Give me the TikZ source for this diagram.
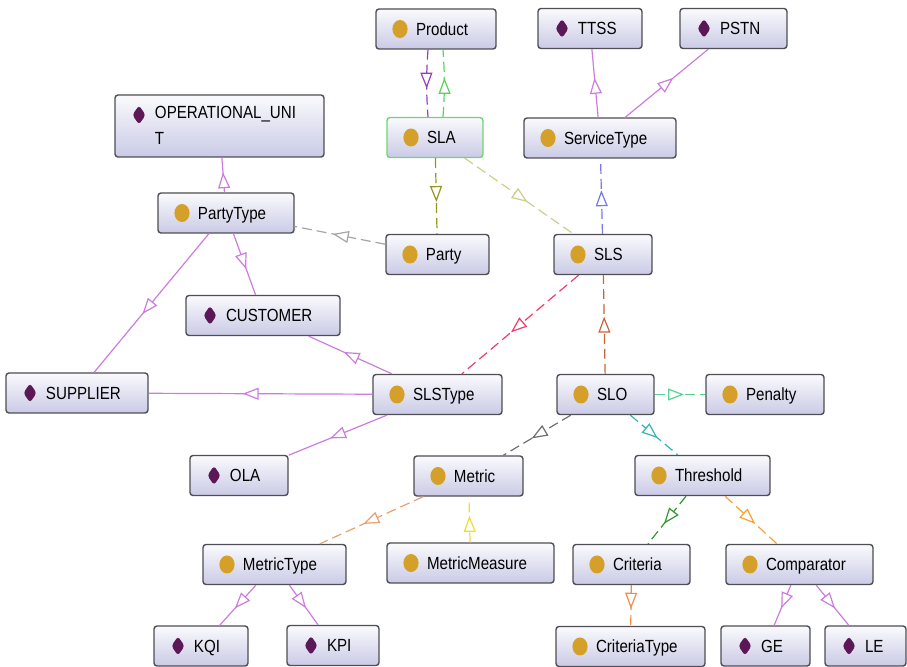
\documentclass[tikz,border=0pt]{standalone}
\usepackage{fontspec}
\setmainfont{Liberation Sans}[FakeStretch=0.86]
\usetikzlibrary{arrows.meta,decorations.markings}

\definecolor{boxtop}{RGB}{250,250,253}
\definecolor{boxbot}{RGB}{202,202,230}
\definecolor{boxline}{RGB}{78,78,84}
\definecolor{slagreen}{RGB}{110,215,110}
\definecolor{clsgold}{RGB}{212,160,42}
\definecolor{indpurple}{RGB}{92,24,86}
\definecolor{subline}{RGB}{204,124,222}
\definecolor{cPurple}{RGB}{150,60,200}
\definecolor{cGreen}{RGB}{90,210,90}
\definecolor{cOlive}{RGB}{150,150,30}
\definecolor{cPale}{RGB}{205,205,140}
\definecolor{cBlue}{RGB}{120,120,230}
\definecolor{cGray}{RGB}{165,165,165}
\definecolor{cRed}{RGB}{240,60,110}
\definecolor{cBrown}{RGB}{200,100,60}
\definecolor{cMint}{RGB}{90,210,150}
\definecolor{cDark}{RGB}{110,110,110}
\definecolor{cTeal}{RGB}{50,180,180}
\definecolor{cTan}{RGB}{230,160,110}
\definecolor{cYellow}{RGB}{240,220,50}
\definecolor{cGreenD}{RGB}{50,150,50}
\definecolor{cOrange}{RGB}{250,160,50}
\definecolor{cOrangeL}{RGB}{240,140,70}

\tikzset{
	onto/.style={draw=boxline, line width=0.7pt, rounded corners=1.5pt,
		top color=boxtop, bottom color=boxbot,
		inner xsep=0pt, inner ysep=0pt, minimum height=20pt,
		text height=6.2pt, text depth=0pt, align=left, text width=#1,
		font=\fontsize{8.8}{13.2}\selectfont,
		execute at begin node={\hspace*{20pt}}},
	cls/.style={onto=#1, path picture={
		\fill[clsgold] ([shift={(12pt,-10pt)}]path picture bounding box.north west)
			ellipse [x radius=3.8pt, y radius=4.5pt];}},
	ind/.style={onto=#1, path picture={
		\fill[indpurple] ([shift={(12pt,-10pt)}]path picture bounding box.north west)
			+(0pt,4.8pt) -- +(3.3pt,0pt) -- +(0pt,-4.8pt) -- +(-3.3pt,0pt) -- cycle;}},
	rel/.style={color=#1, line width=0.6pt, postaction={decorate},
		decoration={markings, mark=at position 0.58 with
			{\arrow{Triangle[fill=white,length=8pt,width=6pt]}}}},
	isa/.style={rel=subline},
	prop/.style={rel=#1, dash pattern=on 5pt off 2.5pt},
}

\begin{document}
\begin{tikzpicture}[x=0.5pt,y=-0.5pt]
	\useasboundingbox (0,0) rectangle (907,667);

	\node[cls=60pt] (P) at(436,29) {Product};
	\node[ind=52pt] (TT) at(590,28.5) {TTSS};
	\node[ind=53.5pt] (PS) at(733.5,28.5) {PSTN};
	\node[ind=104.5pt,minimum height=31pt,text depth=13.6pt] (OU) at(219.5,126) {OPERATIONAL\_UNI\\\hspace*{20pt}T};
	\node[cls=48pt,draw=slagreen] (SLA) at(435,137.5) {SLA};
	\node[cls=76pt] (ST) at(600,138) {ServiceType};
	\node[cls=68pt] (PT) at(226,213) {PartyType};
	\node[cls=51.5pt] (Pa) at(437.5,254.5) {Party};
	\node[cls=49pt] (SLS) at(603,254.5) {SLS};
	\node[ind=77pt] (CU) at(263,315.5) {CUSTOMER};
	\node[ind=71pt] (SU) at(77,393) {SUPPLIER};
	\node[cls=64.5pt] (SLT) at(437.5,394.5) {SLSType};
	\node[cls=48.5pt] (SLO) at(605.5,394.5) {SLO};
	\node[cls=59pt] (Pe) at(765,394.5) {Penalty};
	\node[ind=49pt] (OLA) at(239,475.5) {OLA};
	\node[cls=54.5pt] (Me) at(468.5,476) {Metric};
	\node[cls=67.5pt] (Th) at(702.5,475.5) {Threshold};
	\node[cls=71.5pt] (MT) at(274.5,564.5) {MetricType};
	\node[cls=83.5pt] (MM) at(470.5,563) {MetricMeasure};
	\node[cls=58.5pt] (Cr) at(631.5,564.5) {Criteria};
	\node[cls=73.5pt] (Co) at(799.5,564.5) {Comparator};
	\node[ind=47pt] (KQI) at(201,646) {KQI};
	\node[ind=46pt] (KPI) at(333,645.5) {KPI};
	\node[cls=74.5pt] (CT) at(630.5,646.5) {CriteriaType};
	\node[ind=44.5pt] (GE) at(765.5,646) {GE};
	\node[ind=40.5pt] (LE) at(865.5,646) {LE};

	\draw[prop=cPurple] ([xshift=-4pt]P.south) to[bend right=4] ([xshift=-3.5pt]SLA.north);
	\draw[prop=cGreen] ([xshift=4pt]SLA.north) to[bend right=4] ([xshift=3.5pt]P.south);
	\draw[isa] (ST)to(TT);
	\draw[isa] (ST)to(PS);
	\draw[isa] (PT)to(OU);
	\draw[prop=cOlive] (SLA)to(Pa);
	\draw[prop=cPale] (SLA)to(SLS);
	\draw[prop=cBlue] (SLS)to(ST);
	\draw[prop=cGray] (Pa)to(PT);
	\draw[isa] (PT)to(SU);
	\draw[isa] (PT)to(CU);
	\draw[isa] (SLT)to(CU);
	\draw[isa] (SLT)to(SU);
	\draw[isa] (SLT)to(OLA);
	\draw[prop=cRed] (SLS)to(SLT);
	\draw[prop=cBrown] (SLO)to(SLS);
	\draw[prop=cMint] (SLO)to(Pe);
	\draw[prop=cDark] (SLO)to(Me);
	\draw[prop=cTeal] (SLO)to(Th);
	\draw[prop=cTan] (Me)to(MT);
	\draw[prop=cYellow] (MM)to(Me);
	\draw[prop=cGreenD] (Th)to(Cr);
	\draw[prop=cOrange] (Th)to(Co);
	\draw[prop=cOrangeL] (Cr)to(CT);
	\draw[isa] (MT)to(KQI);
	\draw[isa] (MT)to(KPI);
	\draw[isa] (Co)to(GE);
	\draw[isa] (Co)to(LE);
\end{tikzpicture}
\end{document}
